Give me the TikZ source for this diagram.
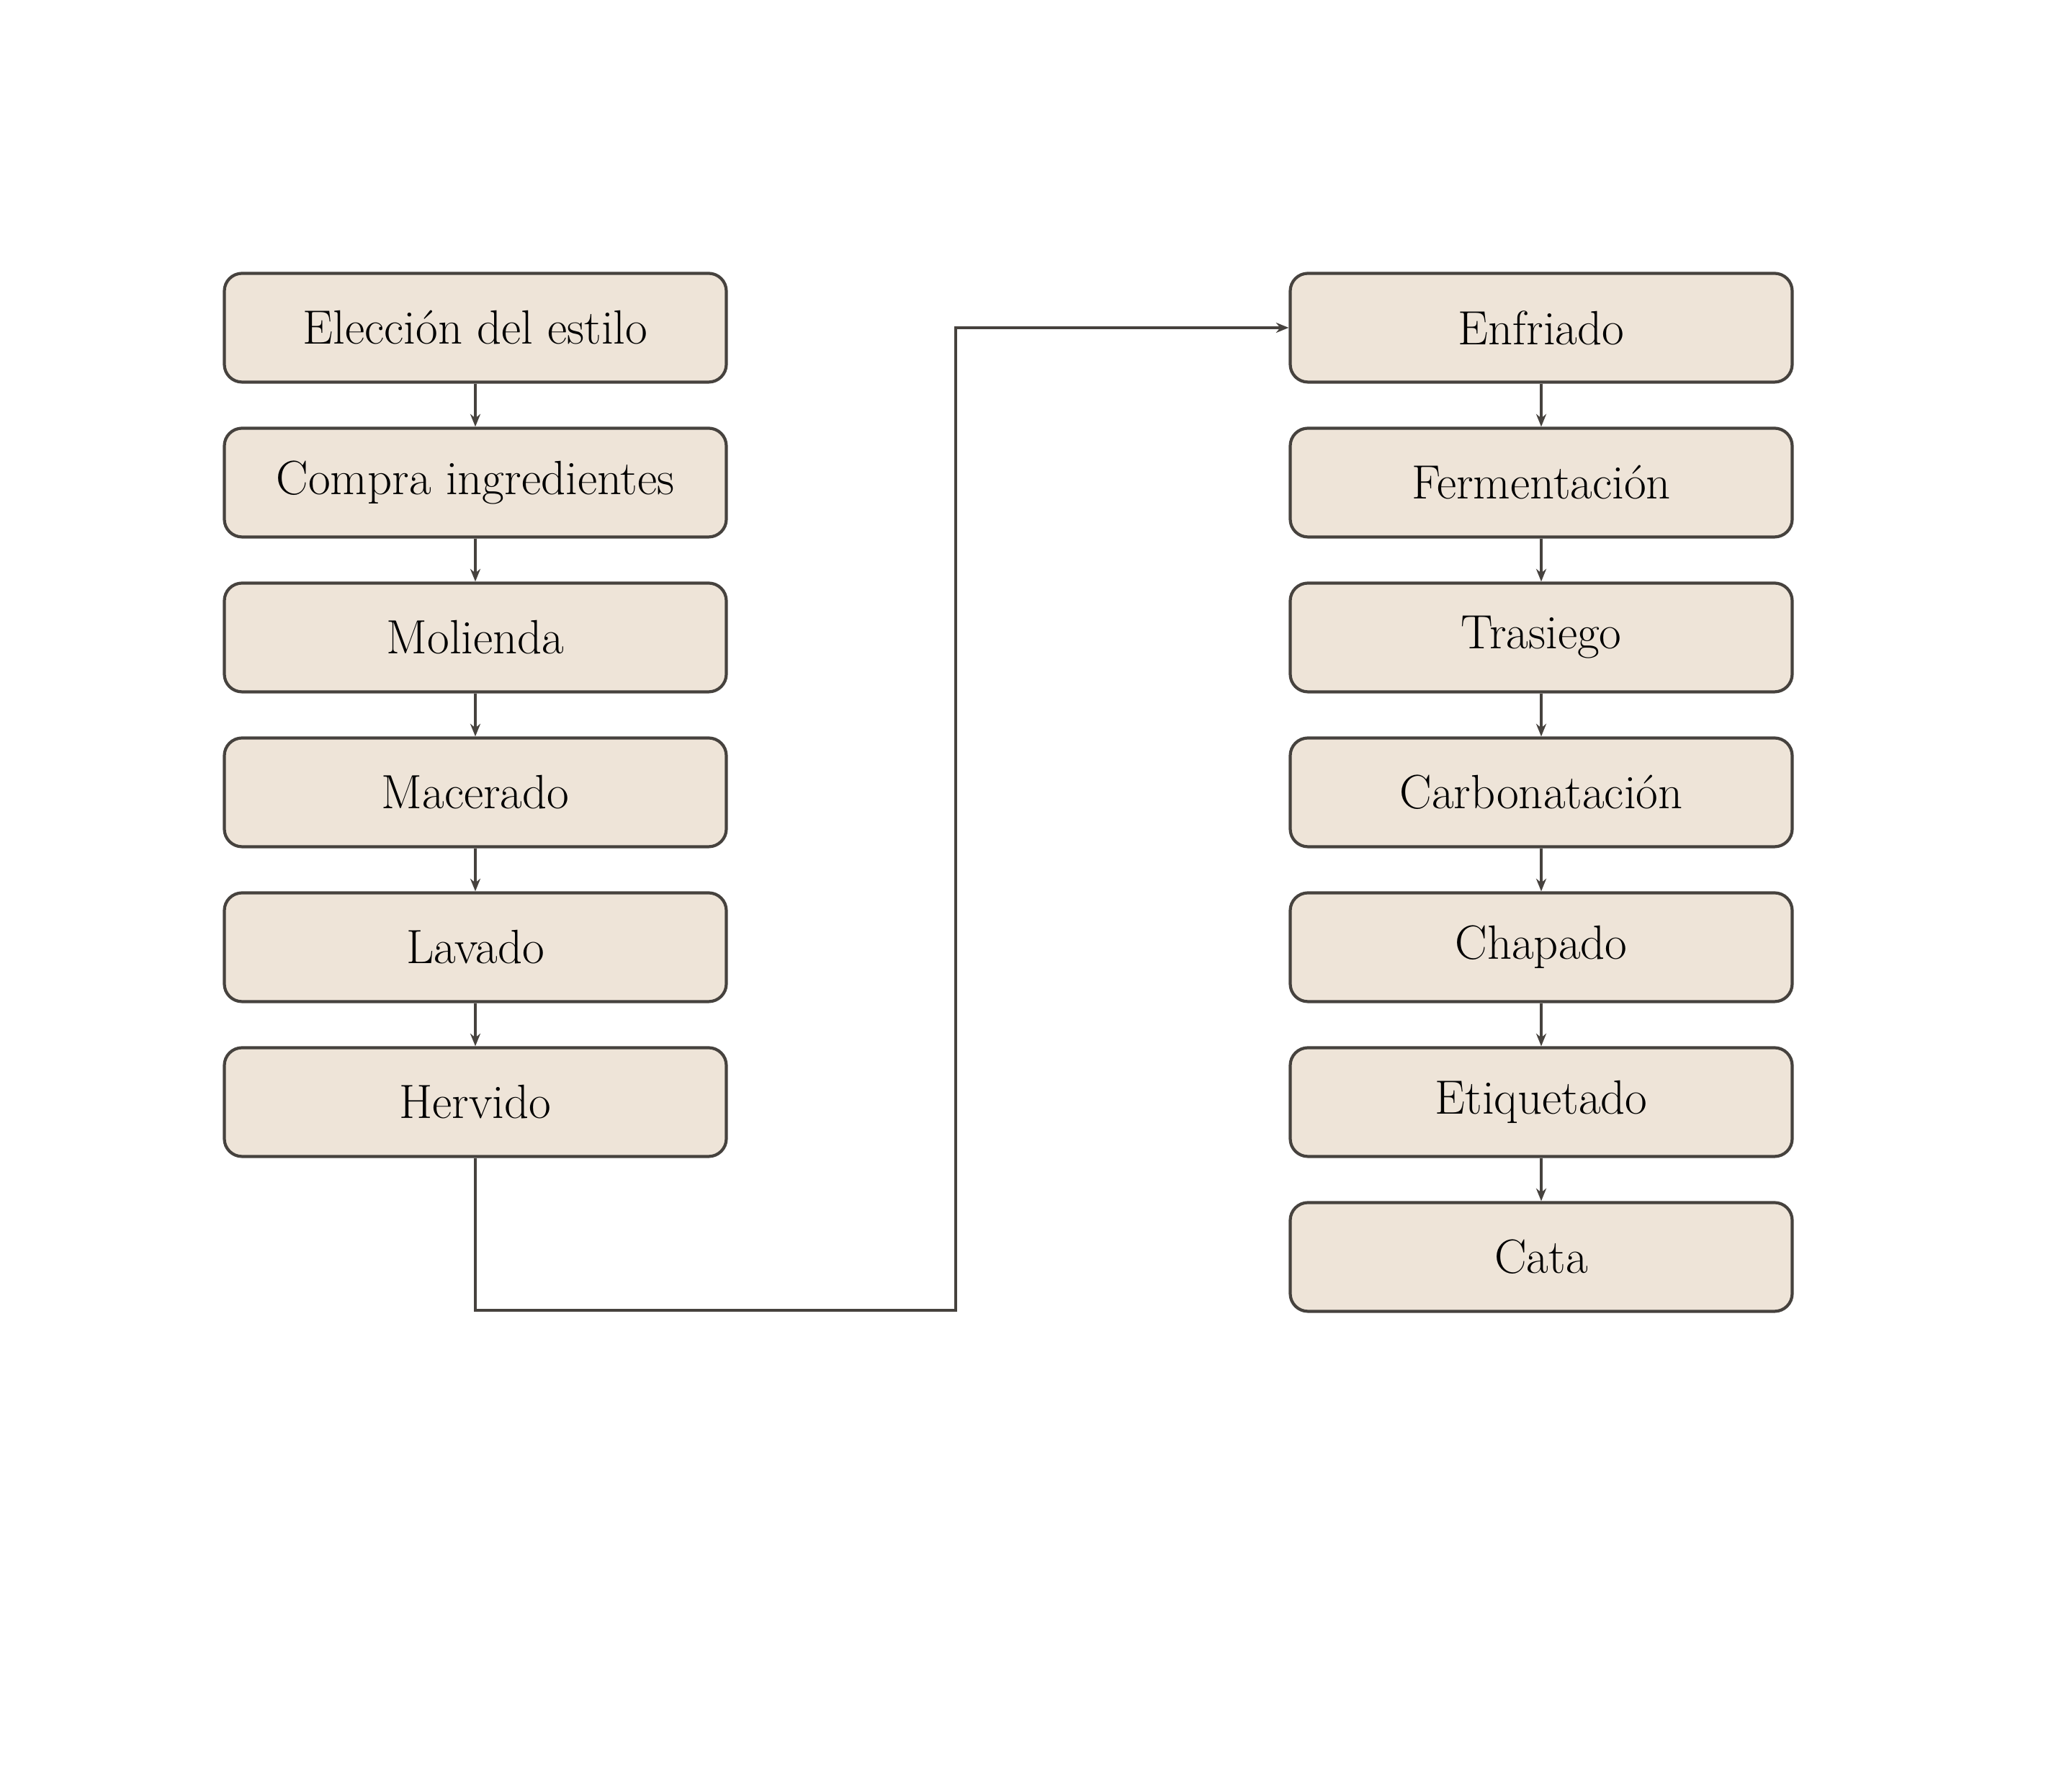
\documentclass[tikz,border=0pt]{standalone}
\usepackage{tikz}
\usetikzlibrary{arrows.meta}

\definecolor{fondo}{RGB}{238,228,216}
\definecolor{borde}{RGB}{70,66,62}

\begin{document}
\begin{tikzpicture}[
    paso/.style={draw=borde, fill=fondo, line width=1.2pt, rounded corners=7pt,
      minimum width=6.97cm, minimum height=1.51cm, inner sep=0pt,
      font=\fontsize{19}{23}\selectfont},
    flecha/.style={draw=borde, line width=1.1pt, -{Stealth[length=5pt,width=4pt]}}
  ]
  \useasboundingbox (0,0) rectangle (28.77,24.78);
  \node[paso] (eleccion) at (6.6,20.23) {Elección del estilo};
  \node[paso] (compra) at (6.6,18.08) {Compra ingredientes};
  \node[paso] (molienda) at (6.6,15.93) {Molienda};
  \node[paso] (macerado) at (6.6,13.78) {Macerado};
  \node[paso] (lavado) at (6.6,11.63) {Lavado};
  \node[paso] (hervido) at (6.6,9.48) {Hervido};
  \node[paso] (enfriado) at (21.4,20.23) {Enfriado};
  \node[paso] (fermentacion) at (21.4,18.08) {Fermentación};
  \node[paso] (trasiego) at (21.4,15.93) {Trasiego};
  \node[paso] (carbonatacion) at (21.4,13.78) {Carbonatación};
  \node[paso] (chapado) at (21.4,11.63) {Chapado};
  \node[paso] (etiquetado) at (21.4,9.48) {Etiquetado};
  \node[paso] (cata) at (21.4,7.33) {Cata};
  \coordinate (abajo) at (13.27,6.59);
  \draw [flecha] (eleccion) -- (compra);
  \draw [flecha] (compra) -- (molienda);
  \draw [flecha] (molienda) -- (macerado);
  \draw [flecha] (macerado) -- (lavado);
  \draw [flecha] (lavado) -- (hervido);
  \draw [flecha] (hervido.south) |- (abajo) |- (enfriado.west);
  \draw [flecha] (enfriado) -- (fermentacion);
  \draw [flecha] (fermentacion) -- (trasiego);
  \draw [flecha] (trasiego) -- (carbonatacion);
  \draw [flecha] (carbonatacion) -- (chapado);
  \draw [flecha] (chapado) -- (etiquetado);
  \draw [flecha] (etiquetado) -- (cata);
\end{tikzpicture}
\end{document}
